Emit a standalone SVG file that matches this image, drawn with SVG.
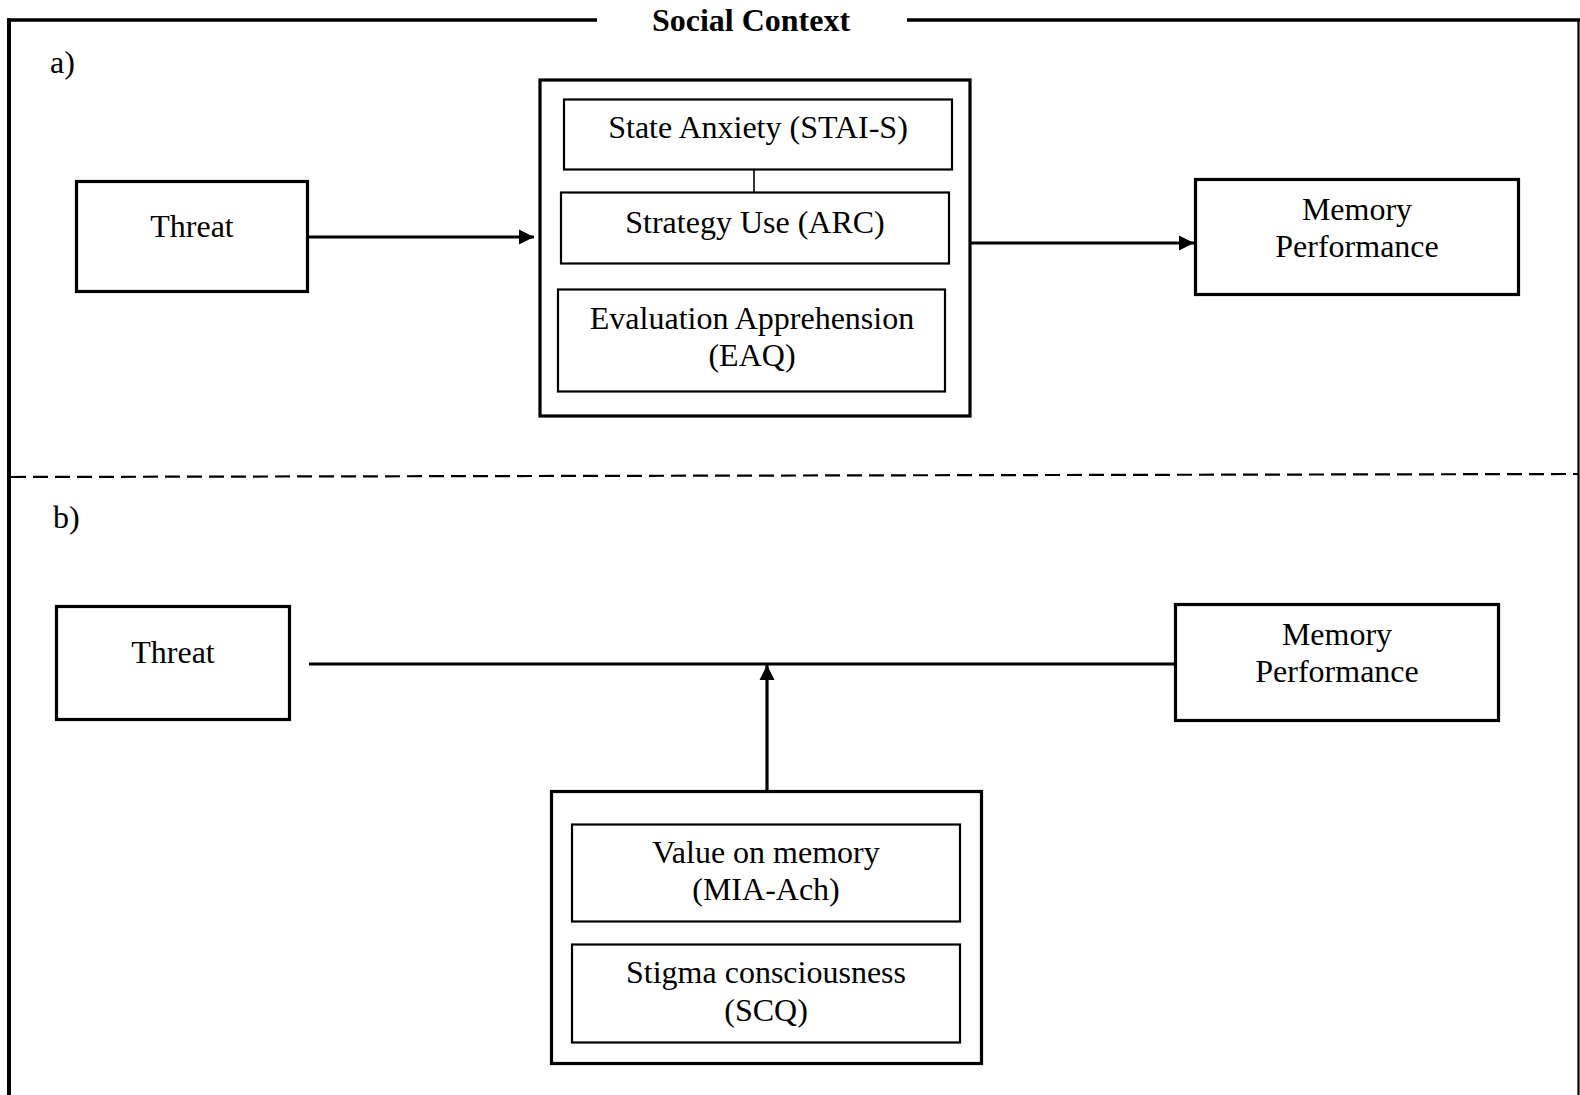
<svg xmlns="http://www.w3.org/2000/svg" width="1580" height="1095" viewBox="0 0 1580 1095">
<style>
text{font-family:"Liberation Serif","Times New Roman",serif;font-size:32px;fill:#000;text-anchor:middle}
.lbl{text-anchor:start}
.bold{font-weight:bold}
.box{fill:#fff;stroke:#000;stroke-width:3.2}
.inner{fill:#fff;stroke:#000;stroke-width:2.2}
.frame{fill:none;stroke:#000}
.conn{fill:none;stroke:#000;stroke-width:3.2}
</style>
<defs>
<marker id="arr" markerWidth="16" markerHeight="16" viewBox="0 0 16 16" refX="15" refY="8" orient="auto" markerUnits="userSpaceOnUse">
<path d="M0,0.5 L15,8 L0,15.5 Z" fill="#000"/>
</marker>
</defs>
<rect width="1580" height="1095" fill="#fff"/>
<g id="frame">
<line class="frame" x1="9" y1="18.5" x2="9" y2="1095" stroke-width="4"/>
<line class="frame" x1="7" y1="20" x2="597" y2="20" stroke-width="3.5"/>
<line class="frame" x1="907" y1="20" x2="1580" y2="20" stroke-width="3.5"/>
<line class="frame" x1="1578.5" y1="20" x2="1578.5" y2="1095" stroke-width="2.2"/>
<line class="frame" x1="11" y1="477" x2="1578" y2="474" stroke-width="2.2" stroke-dasharray="15 7"/>
<text x="751" y="31" class="bold">Social Context</text>
<text x="50" y="73" class="lbl">a)</text>
<text x="53" y="528" class="lbl">b)</text>
</g>
<g id="threat-a">
<rect class="box" x="76.5" y="181.5" width="231" height="110"/>
<text x="192" y="237">Threat</text>
</g>
<g id="mediators">
<rect class="box" x="540" y="80" width="430" height="336"/>
</g>
<g id="stai">
<rect class="inner" x="564" y="99.5" width="388" height="70"/>
<text x="758" y="138">State Anxiety (STAI-S)</text>
</g>
<g id="arc">
<rect class="inner" x="561" y="192.5" width="388" height="71"/>
<text x="755" y="233">Strategy Use (ARC)</text>
</g>
<g id="eaq">
<rect class="inner" x="558" y="289.5" width="387" height="102"/>
<text x="752" y="329">Evaluation Apprehension</text>
<text x="752" y="366">(EAQ)</text>
</g>
<g id="memory-a">
<rect class="box" x="1195.5" y="179.5" width="323" height="115"/>
<text x="1357" y="220">Memory</text>
<text x="1357" y="257">Performance</text>
</g>
<g id="threat-b">
<rect class="box" x="56.5" y="606.5" width="233" height="113"/>
<text x="173" y="663">Threat</text>
</g>
<g id="memory-b">
<rect class="box" x="1175.5" y="604.5" width="323" height="116"/>
<text x="1337" y="645">Memory</text>
<text x="1337" y="682">Performance</text>
</g>
<g id="moderators">
<rect class="box" x="551.5" y="791.5" width="430" height="272"/>
</g>
<g id="mia">
<rect class="inner" x="572" y="824.5" width="388" height="97"/>
<text x="766" y="863">Value on memory</text>
<text x="766" y="900">(MIA-Ach)</text>
</g>
<g id="scq">
<rect class="inner" x="572" y="944.5" width="388" height="98"/>
<text x="766" y="983">Stigma consciousness</text>
<text x="766" y="1021">(SCQ)</text>
</g>
<g id="connectors">
<line x1="754" y1="170" x2="754" y2="192" stroke="#000" stroke-width="1.6"/>
<line class="conn" x1="309" y1="237" x2="534" y2="237" marker-end="url(#arr)"/>
<line class="conn" x1="971" y1="243" x2="1194" y2="243" marker-end="url(#arr)"/>
<line class="conn" x1="309" y1="664" x2="1175" y2="664"/>
<line class="conn" x1="767" y1="791" x2="767" y2="665" marker-end="url(#arr)"/>
</g>
</svg>
